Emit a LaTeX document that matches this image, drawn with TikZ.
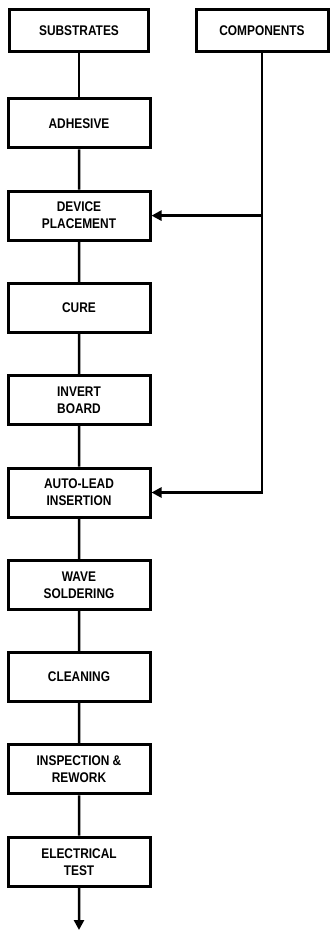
\documentclass[tikz,border=0pt]{standalone}
\usepackage{fontspec}
\newfontfamily\flowfont[FakeStretch=0.85]{Liberation Sans}
\usetikzlibrary{arrows.meta}
\begin{document}
\begin{tikzpicture}[
x=1pt,y=1pt,
level distance=92.3pt,
every node/.style={draw,line width=3pt,minimum width=142pt,minimum height=49pt,
  inner sep=0pt,align=center,font=\flowfont\bfseries\fontsize{14}{17}\selectfont},
edge from parent/.style={draw,line width=2.5pt},
feed/.style={line width=2.5pt,-{Triangle[length=10pt,width=10pt]}}
]
\useasboundingbox (0,0) rectangle (330,-931);
\node (sub) [minimum width=139pt,minimum height=42pt] at (79,-31) {SUBSTRATES}
child {
    node (adh) {ADHESIVE}
    child {
        node (dev) {DEVICE\\PLACEMENT}
        child {
            node (cur) {CURE}
            child {
                node (inv) {INVERT\\BOARD}
                child {
                    node (aut) {AUTO-LEAD\\INSERTION}
                    child {
                        node (wav) {WAVE\\SOLDERING}
                        child {
                            node (cln) {CLEANING}
                            child {
                                node (ins) {INSPECTION \&\\REWORK}
                                child {node (ele) {ELECTRICAL\\TEST}}
                            }
                        }
                    }
                }
            }
        }
    }
};
\node (cmp) [minimum width=132pt,minimum height=42pt] at (262,-31) {COMPONENTS};
\coordinate (out) at (79,-930);
\draw[feed] (cmp.south) |- (aut.east);
\draw[feed] (cmp.south |- dev.east) -- (dev.east);
\draw[feed] (ele.south) -- (out);
\end{tikzpicture}
\end{document}
